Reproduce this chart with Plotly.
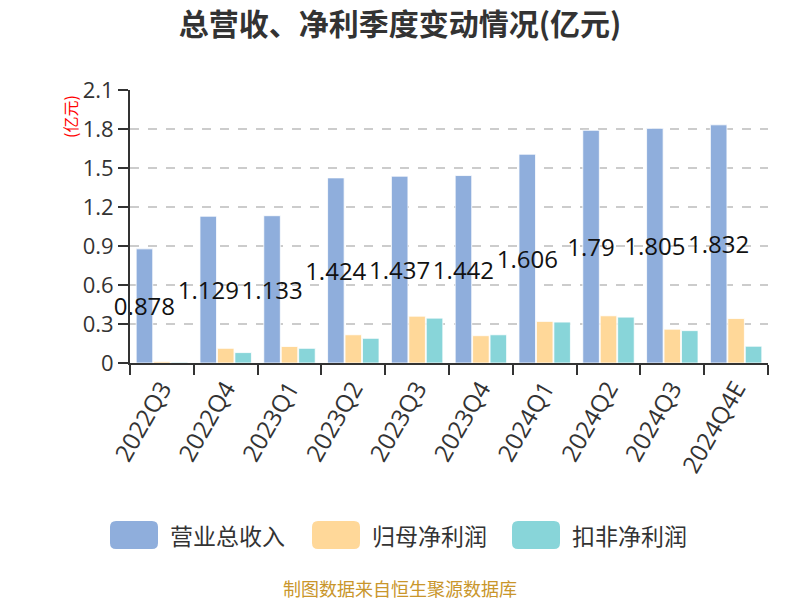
import plotly.graph_objects as go

categories = ["2022Q3", "2022Q4", "2023Q1", "2023Q2", "2023Q3", "2023Q4",
              "2024Q1", "2024Q2", "2024Q3", "2024Q4E"]
revenue = [0.878, 1.129, 1.133, 1.424, 1.437, 1.442, 1.606, 1.79, 1.805, 1.832]
net_profit = [0.012, 0.113, 0.127, 0.217, 0.360, 0.210, 0.320, 0.363, 0.260, 0.342]
deducted_profit = [0.006, 0.080, 0.113, 0.190, 0.345, 0.217, 0.315, 0.353, 0.249, 0.129]
revenue_labels = ["0.878", "1.129", "1.133", "1.424", "1.437", "1.442", "1.606", "1.79", "1.805", "1.832"]

series_names = ["营业总收入", "归母净利润", "扣非净利润"]
series_colors = ["#8FAEDC", "#FFD899", "#88D5D9"]
y_ticks = [0, 0.3, 0.6, 0.9, 1.2, 1.5, 1.8, 2.1]
y_tick_text = ["0", "0.3", "0.6", "0.9", "1.2", "1.5", "1.8", "2.1"]

FONT = "Open Sans, Noto Sans CJK SC, sans-serif"
CJK = "Noto Sans CJK SC, sans-serif"

# plot area in pixels
PL, PR, PT, PB = 130, 768, 90, 363


def px_x(px):
    return (px - PL) / (PR - PL)


def px_y(py):
    return (PB - py) / (PB - PT)


fig = go.Figure()
fig.add_trace(go.Bar(
    x=categories, y=revenue, name=series_names[0],
    marker=dict(color=series_colors[0], line=dict(color="white", width=0.8)),
    text=revenue_labels, textposition="inside", insidetextanchor="middle",
    constraintext="none", textangle=0, cliponaxis=False,
    insidetextfont=dict(color="#111111", size=24, family=FONT),
    showlegend=False,
))
fig.add_trace(go.Bar(
    x=categories, y=net_profit, name=series_names[1],
    marker=dict(color=series_colors[1], line=dict(color="white", width=0.8)),
    showlegend=False,
))
fig.add_trace(go.Bar(
    x=categories, y=deducted_profit, name=series_names[2],
    marker=dict(color=series_colors[2], line=dict(color="white", width=0.8)),
    showlegend=False,
))

# custom legend (rounded rectangles + labels)
legend_x = [110, 312, 512]
shapes = []
annotations = []
for i, (nm, col) in enumerate(zip(series_names, series_colors)):
    x0 = px_x(legend_x[i])
    x1 = px_x(legend_x[i] + 48)
    y0 = px_y(549)
    y1 = px_y(521)
    r = 6 / (PR - PL)
    ry = 6 / (PB - PT)
    path = (f"M {x0 + r},{y0} L {x1 - r},{y0} Q {x1},{y0} {x1},{y0 + ry} "
            f"L {x1},{y1 - ry} Q {x1},{y1} {x1 - r},{y1} L {x0 + r},{y1} "
            f"Q {x0},{y1} {x0},{y1 - ry} L {x0},{y0 + ry} Q {x0},{y0} {x0 + r},{y0} Z")
    shapes.append(dict(type="path", xref="paper", yref="paper", path=path,
                       fillcolor=col, line=dict(width=0)))
    annotations.append(dict(text=nm, xref="paper", yref="paper",
                            x=px_x(legend_x[i] + 58), y=px_y(535),
                            xanchor="left", yanchor="middle", showarrow=False,
                            font=dict(size=23, color="#333333", family=CJK)))

# unit label
annotations.append(dict(text="(亿元)", xref="paper", yref="paper",
                        x=px_x(70), y=px_y(117), textangle=-90,
                        xanchor="center", yanchor="middle", showarrow=False,
                        font=dict(size=16, color="red", family=CJK)))
# footer
annotations.append(dict(text="制图数据来自恒生聚源数据库", xref="paper", yref="paper",
                        x=px_x(400), y=px_y(588), xanchor="center", yanchor="middle",
                        showarrow=False,
                        font=dict(size=18, color="#C9962B", family=CJK)))

fig.update_layout(
    width=800, height=600,
    margin=dict(l=PL, r=800 - PR, t=PT, b=600 - PB, autoexpand=False),
    paper_bgcolor="white", plot_bgcolor="white",
    barmode="group", bargap=0.18, bargroupgap=0.05,
    title=dict(text="<b>总营收、净利季度变动情况(亿元)</b>", x=0.5, xanchor="center",
               xref="container", y=1 - 24 / 600, yanchor="middle",
               font=dict(size=30, color="#333333", family=CJK)),
    font=dict(family=FONT, color="#333333"),
    shapes=shapes, annotations=annotations,
    xaxis=dict(
        type="category", tickson="boundaries", ticks="outside", ticklen=10,
        tickwidth=2, tickcolor="#333333", showline=True, linecolor="#333333",
        linewidth=2, tickangle=-60, showgrid=False,
        tickfont=dict(size=24, color="#333333", family=FONT),
    ),
    yaxis=dict(
        range=[0, 2.1], tickvals=y_ticks, ticktext=y_tick_text,
        ticks="outside", ticklen=10, tickwidth=2, tickcolor="#333333",
        showline=True, linecolor="#333333", linewidth=2,
        showgrid=True, gridcolor="#CCCCCC", griddash="dash", gridwidth=2,
        zeroline=False,
        tickfont=dict(size=22, color="#333333", family=FONT),
    ),
)

fig.write_html("out.html")
